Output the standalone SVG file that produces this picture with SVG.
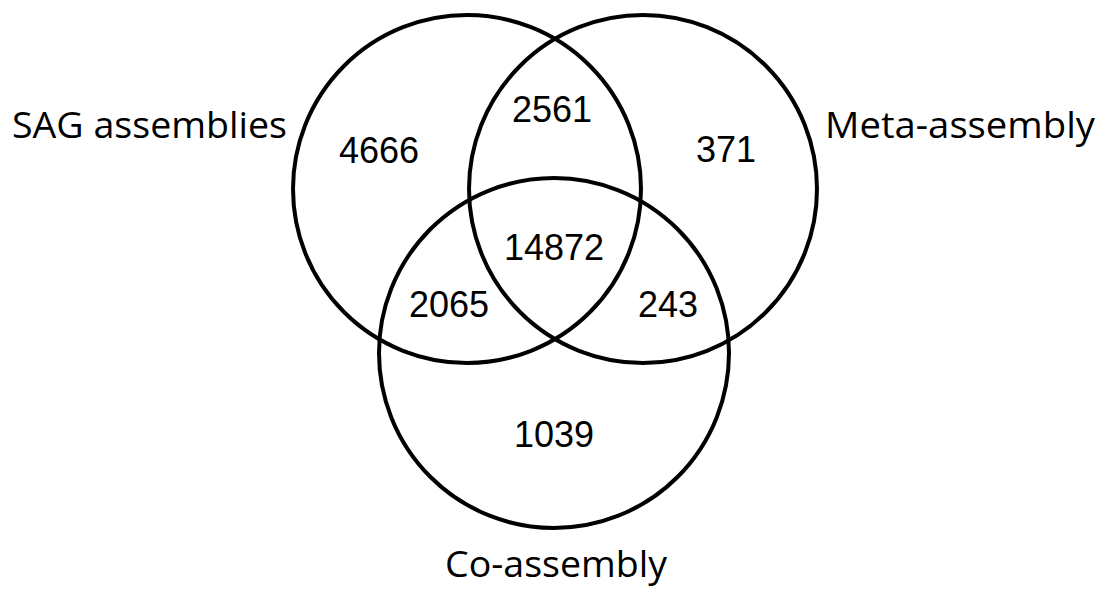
<svg xmlns="http://www.w3.org/2000/svg" width="1108" height="602" viewBox="0 0 1108 602">
<style>
.c{fill:none;stroke:#000;stroke-width:4}
.n{font-family:"Liberation Sans",Arial,sans-serif;font-size:36px;text-anchor:middle;fill:#000}
.l{font-family:"Open Sans","Noto Sans",sans-serif;font-size:37px;fill:#000}
</style>
<rect width="1108" height="602" fill="#fff"/>
<g id="sag"><circle class="c" cx="467" cy="189" r="174"/><text class="l" x="12" y="138" textLength="275" lengthAdjust="spacingAndGlyphs">SAG assemblies</text></g>
<g id="meta"><circle class="c" cx="643" cy="189" r="174"/><text class="l" x="825" y="138" textLength="270" lengthAdjust="spacingAndGlyphs">Meta-assembly</text></g>
<g id="co"><circle class="c" cx="554" cy="353" r="175"/><text class="l" x="445" y="577" textLength="222" lengthAdjust="spacingAndGlyphs">Co-assembly</text></g>
<g id="counts">
<text class="n" x="379" y="163">4666</text>
<text class="n" x="552" y="122">2561</text>
<text class="n" x="726" y="162">371</text>
<text class="n" x="554" y="260">14872</text>
<text class="n" x="449" y="317">2065</text>
<text class="n" x="668" y="317">243</text>
<text class="n" x="554" y="447">1039</text>
</g>
</svg>
